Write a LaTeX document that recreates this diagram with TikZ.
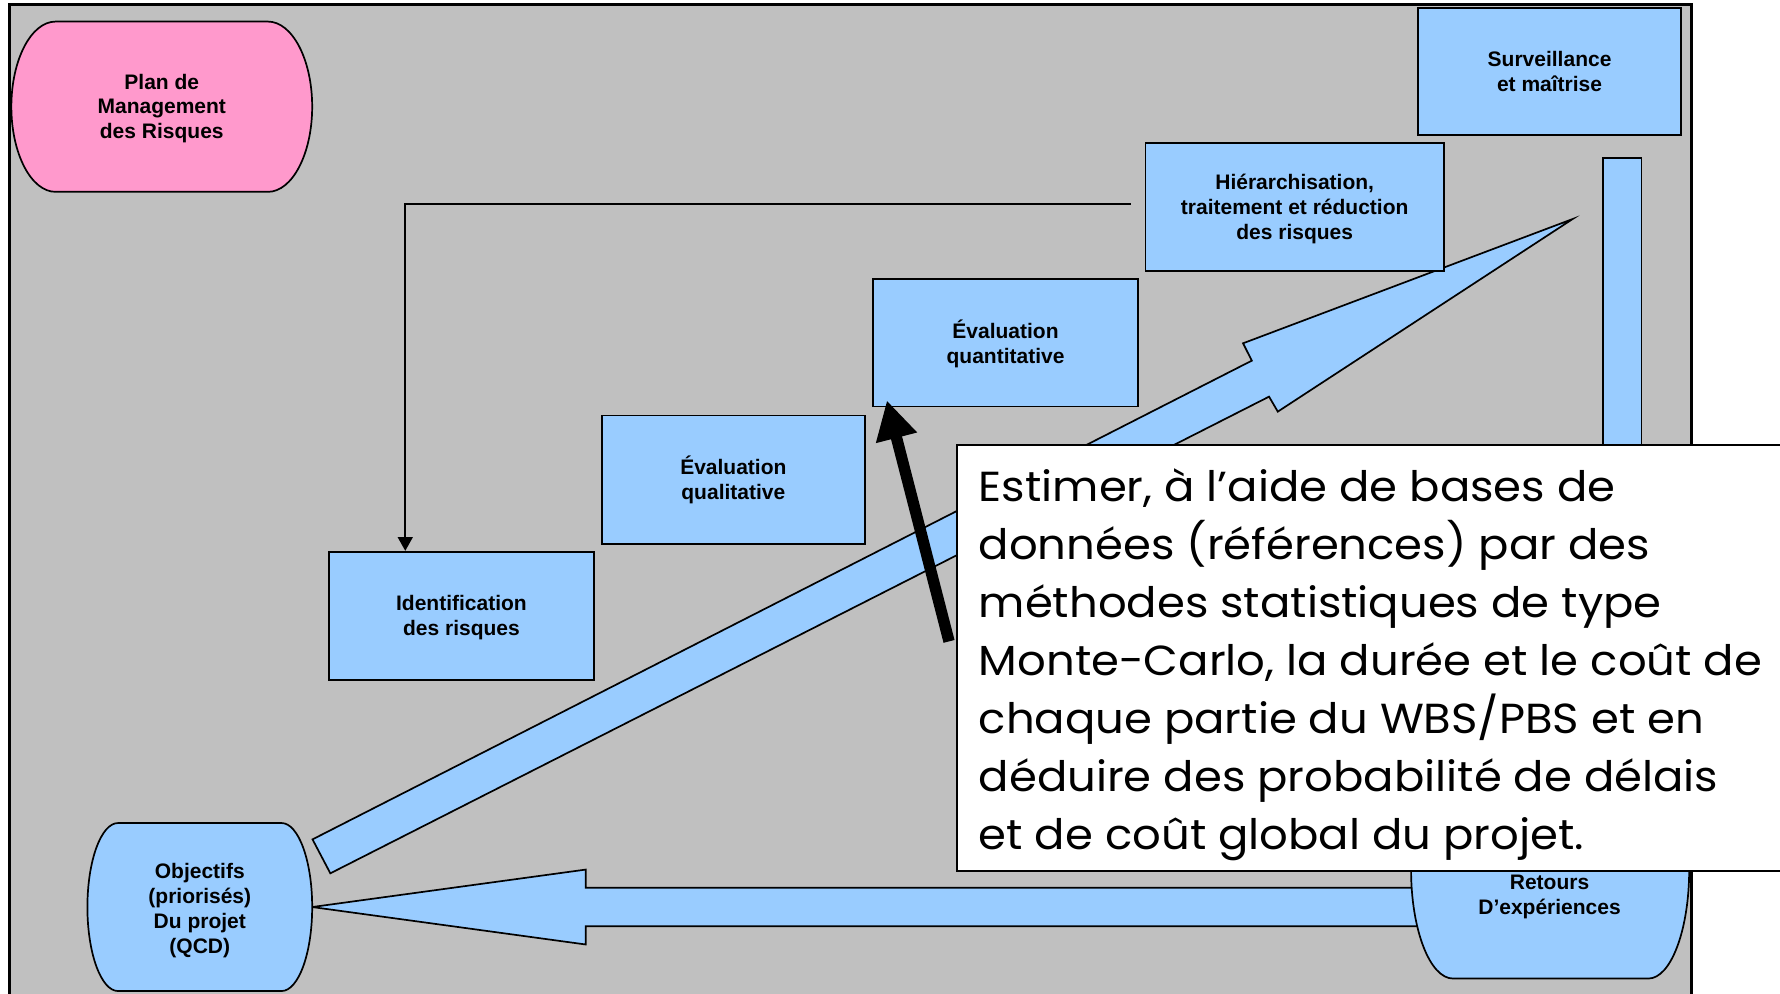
\documentclass[tikz,border=0pt]{standalone}
\usepackage{fontspec}
\setmainfont{Liberation Sans}
\newfontfamily\callf[FakeStretch=1.07]{Poppins}
\usetikzlibrary{arrows.meta}
\definecolor{bgray}{HTML}{C0C0C0}
\definecolor{lblue}{HTML}{99CCFF}
\definecolor{lpink}{HTML}{FF99CC}
\newcommand\lowtxt[1]{\raisebox{-2pt}[\height][\depth]{\begin{tabular}{@{}c@{}}#1\end{tabular}}}
\tikzset{
 box/.style={draw=black, line width=1.5pt, fill=lblue, font=\bfseries\fontsize{18.5}{22}\selectfont, inner sep=0pt},
 lbl/.style={font=\bfseries\fontsize{18.5}{22}\selectfont, inner sep=0pt},
 shp/.style={draw=black, line width=1.5pt},
 conn/.style={draw=black, line width=1.5pt, -{Triangle[width=13pt,length=12pt]}},
 blk/.style={draw=black, line width=10pt, -{Triangle[width=35pt,length=34pt]}},
}
\begin{document}
\begin{tikzpicture}[x=1pt,y=-1pt]
\useasboundingbox (0,0) rectangle (1568,875);
\clip (0,0) rectangle (1568,875);
\fill[white] (0,0) rectangle (1568,875);
% gray background
\draw[fill=bgray, line width=2.5pt] (8,4) rectangle (1490,900);
% Plan de Management
\draw[shp, fill=lpink] (49,19) -- (236,19) .. controls (257.5,19) and (275,52.6) .. (275,94)
  .. controls (275,135.4) and (257.5,169) .. (236,169) -- (49,169)
  .. controls (27.5,169) and (10,135.4) .. (10,94) .. controls (10,52.6) and (27.5,19) .. (49,19) -- cycle;
\node[lbl] (plan) at (142.5,94) {\lowtxt{Plan de\\Management\\des Risques}};
% big rising arrow
\draw[shp, fill=lblue] (275.3,739.4) -- (1102.7,317.7) -- (1095,302.4) -- (1385.4,192.9)
  -- (1125.6,362.6) -- (1117.9,349.4) -- (291,769.3) -- cycle;
% vertical bar
\draw[shp, fill=lblue] (1412,139) rectangle (1446,700);
% boxes
\node[box, minimum width=232pt, minimum height=112pt] (surv) at (1365,63) {\lowtxt{Surveillance\\et maîtrise}};
\node[box, minimum width=263pt, minimum height=112.5pt] (hier) at (1140.5,182.25) {\lowtxt{Hiérarchisation,\\traitement et réduction\\des risques}};
\node[box, minimum width=233.5pt, minimum height=112pt] (equant) at (885.75,302) {\lowtxt{Évaluation\\quantitative}};
\node[box, minimum width=232pt, minimum height=113pt] (equal) at (646,422.5) {\lowtxt{Évaluation\\qualitative}};
\node[box, minimum width=233pt, minimum height=113pt] (ident) at (406.5,542.5) {\lowtxt{Identification\\des risques}};
% feedback connector
\coordinate (fb) at (996,180);
\draw[conn] (fb) -| ([xshift=-49.5pt]ident.north);
% bottom arrow
\draw[shp, fill=lblue] (275,799) -- (516,766) -- (516,782) -- (1262,782) -- (1262,816)
  -- (516,816) -- (516,832) -- cycle;
% Objectifs
\draw[shp, fill=lblue] (104,725) -- (248,725) .. controls (262.9,725) and (275,758.2) .. (275,799)
  .. controls (275,839.8) and (262.9,873) .. (248,873) -- (104,873)
  .. controls (89.1,873) and (77,839.8) .. (77,799) .. controls (77,758.2) and (89.1,725) .. (104,725) -- cycle;
\node[lbl] (obj) at (176,800.5) {\lowtxt{Objectifs\\(priorisés)\\Du projet\\(QCD)}};
% Retours
\draw[shp, fill=lblue] (1280,670) -- (1452,670) .. controls (1471.9,670) and (1488,713) .. (1488,766)
  .. controls (1488,819) and (1471.9,862) .. (1452,862) -- (1280,862)
  .. controls (1259.6,862) and (1243,819) .. (1243,766) .. controls (1243,713) and (1259.6,670) .. (1280,670) -- cycle;
\node[lbl] (ret) at (1365,788) {\lowtxt{Retours\\D’expériences}};
% black arrow
\coordinate (bt) at (836,565);
\draw[blk] (bt) -- ([xshift=13pt,yshift=6pt]equant.south west);
% callout
\draw[fill=white, line width=1.5pt] (843,392) rectangle (1600,767);
\node[anchor=base west, inner sep=0pt, font=\callf\fontsize{37}{51}\selectfont] (call) at (862,442)
 {\begin{tabular}[t]{@{}l@{}}Estimer, à l’aide de bases de\\données (références) par des\\méthodes statistiques de type\\Monte-Carlo, la durée et le coût de\\chaque partie du WBS/PBS et en\\déduire des probabilité de délais\\et de coût global du projet.\end{tabular}};
\end{tikzpicture}
\end{document}
